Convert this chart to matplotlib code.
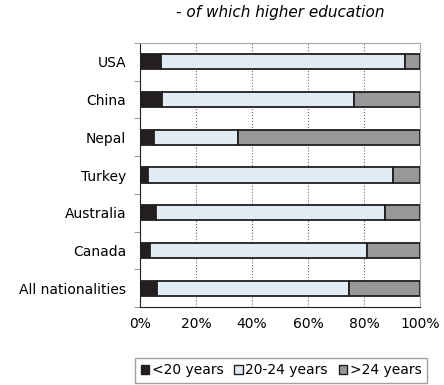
import numpy as np
import matplotlib
matplotlib.use("Agg")
import matplotlib.pyplot as plt
from matplotlib.patches import Patch

# categories top to bottom
countries = ["USA", "China", "Nepal", "Turkey", "Australia", "Canada", "All nationalities"]
under20 = [7.5, 8.0, 5.0, 3.0, 5.6, 3.6, 6.0]
age20_24 = [87.3, 68.3, 30.0, 87.5, 81.8, 77.4, 68.5]
over24 = [100 - a - b for a, b in zip(under20, age20_24)]
series_labels = ["<20 years", "20-24 years", ">24 years"]

colors = ["#231f20", "#e1ecf4", "#98989a"]
edge = "#231f20"

plt.rcParams["font.family"] = "DejaVu Sans"
fs = 10
fig = plt.figure(figsize=(4.44, 3.85), dpi=100)
ax = fig.add_axes([140 / 444, 1 - 307 / 385, 280 / 444, 264 / 385])

y = np.arange(len(countries))[::-1]
left = np.zeros(len(countries))
for vals, c, lab in zip([under20, age20_24, over24], colors, series_labels):
    ax.barh(y, vals, left=left, height=0.4, color=c, edgecolor=edge,
            linewidth=1.3, label=lab, zorder=3)
    left += np.array(vals)

ax.set_xlim(0, 100)
ax.set_ylim(-0.5, len(countries) - 0.5)
ax.set_xticks([0, 20, 40, 60, 80, 100])
ax.set_xticklabels(["0%", "20%", "40%", "60%", "80%", "100%"], fontsize=fs)
ax.set_yticks(y)
ax.set_yticklabels(countries, fontsize=fs)
ax.set_yticks(np.arange(len(countries) + 1) - 0.5, minor=True)
ax.tick_params(axis="y", which="major", length=0, pad=10)
ax.tick_params(axis="y", which="minor", length=4, color="#888888")
ax.tick_params(axis="x", length=0, pad=7)
ax.xaxis.grid(True, linestyle=":", color="#666666", linewidth=0.8, zorder=0)
for s in ["top", "right"]:
    ax.spines[s].set_color("#aaaaaa")
for s in ["left", "bottom"]:
    ax.spines[s].set_color("#231f20")

fig.text(280 / 444, 1 - 13 / 385, "- of which higher education", ha="center",
         va="center", style="italic", fontsize=11)

handles = [Patch(facecolor=c, edgecolor=edge, linewidth=1.0) for c in colors]
fig.legend(handles, series_labels, loc="lower left",
           bbox_to_anchor=(135 / 444, 0.006, 292 / 444, 27 / 385), mode="expand",
           ncol=3, fontsize=fs, frameon=True, fancybox=False, edgecolor="#888888",
           handlelength=0.6, handleheight=0.6, handletextpad=0.2, columnspacing=0.8,
           borderpad=0.4, borderaxespad=0)

fig.savefig("out.png", dpi=100)
